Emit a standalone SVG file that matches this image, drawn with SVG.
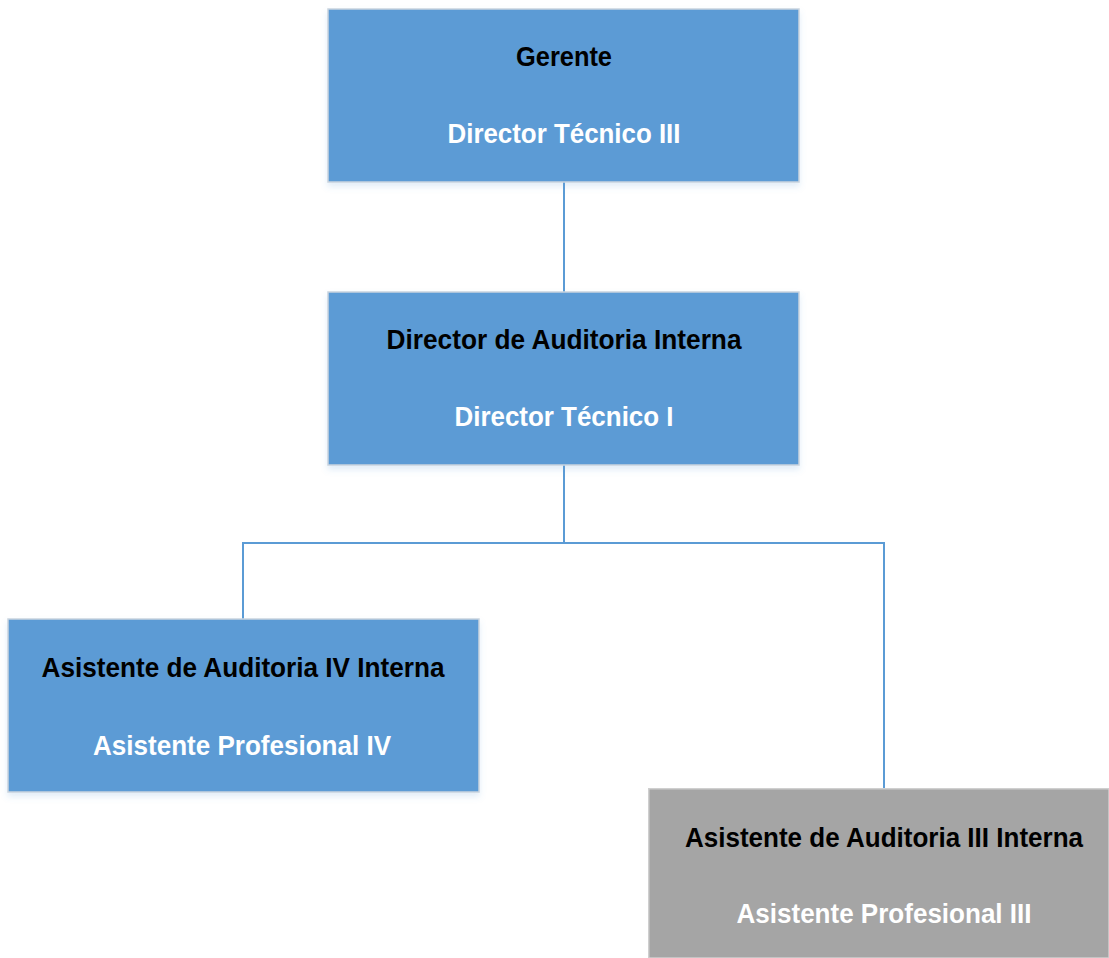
<svg xmlns="http://www.w3.org/2000/svg" width="1109" height="958" viewBox="0 0 1109 958">
<style>
.box{fill:#5b9bd5;stroke:#c9d3de;stroke-width:1.5;filter:url(#sh)}
.gray{fill:#a5a5a5;stroke:#cfcfcf;stroke-width:1.5}
.t1{font-family:"Liberation Sans",Arial,sans-serif;font-weight:bold;font-size:28px;fill:#000;text-anchor:middle}
.t2{font-family:"Liberation Sans",Arial,sans-serif;font-weight:bold;font-size:28px;fill:#fff;text-anchor:middle}
.con{fill:none;stroke:#5b9bd5;stroke-width:2}
</style>
<defs>
<filter id="sh" x="-5%" y="-10%" width="110%" height="125%">
<feGaussianBlur in="SourceAlpha" stdDeviation="3"/>
<feOffset dx="0" dy="4" result="b"/>
<feFlood flood-color="#5b9bd5" flood-opacity="0.18"/>
<feComposite in2="b" operator="in"/>
<feMerge><feMergeNode/><feMergeNode in="SourceGraphic"/></feMerge>
</filter>
</defs>
<rect width="1109" height="958" fill="#fff"/>
<g id="connectors">
<path class="con" d="M564 182V292"/>
<path class="con" d="M564 465V543"/>
<path class="con" d="M243 619V543H884V788"/>
</g>
<g id="gerente">
<rect class="box" x="328" y="9" width="471" height="173"/>
<text class="t1" x="564" y="66" textLength="96" lengthAdjust="spacingAndGlyphs">Gerente</text>
<text class="t2" x="564" y="143" textLength="233" lengthAdjust="spacingAndGlyphs">Director Técnico III</text>
</g>
<g id="director">
<rect class="box" x="328" y="292" width="471" height="173"/>
<text class="t1" x="564" y="349" textLength="355" lengthAdjust="spacingAndGlyphs">Director de Auditoria Interna</text>
<text class="t2" x="564" y="426" textLength="219" lengthAdjust="spacingAndGlyphs">Director Técnico I</text>
</g>
<g id="asistente4">
<rect class="box" x="8" y="619" width="471" height="173"/>
<text class="t1" x="243" y="677" textLength="403" lengthAdjust="spacingAndGlyphs">Asistente de Auditoria IV Interna</text>
<text class="t2" x="242" y="755" textLength="298" lengthAdjust="spacingAndGlyphs">Asistente Profesional IV</text>
</g>
<g id="asistente3">
<rect class="gray" x="648.75" y="788.75" width="460.25" height="169.25"/>
<text class="t1" transform="translate(884,847) scale(0.93,1)">Asistente de Auditoria III Interna</text>
<text class="t2" x="884" y="923" textLength="295" lengthAdjust="spacingAndGlyphs">Asistente Profesional III</text>
</g>
</svg>
